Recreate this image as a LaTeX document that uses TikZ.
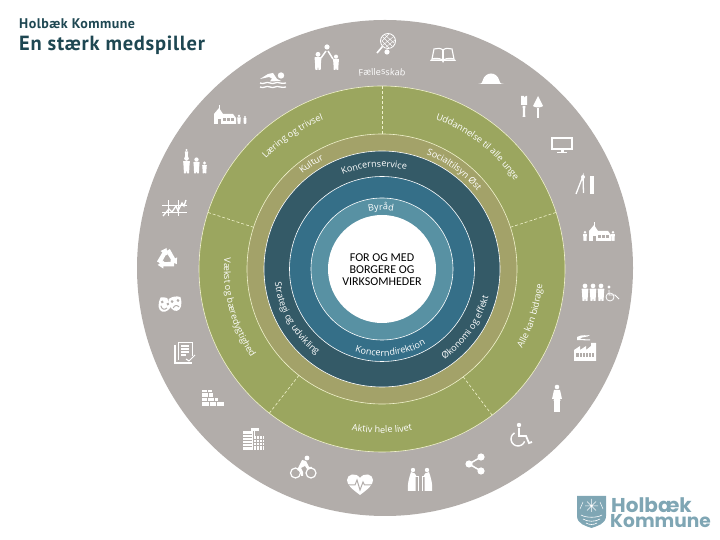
\documentclass[tikz,border=0pt]{standalone}
\usepackage{fontspec}
\setmainfont{Carlito}
\newfontfamily\titlefont[LetterSpace=3.5]{PT Sans}
\newfontfamily\logofont{Poppins}
\newfontfamily\arcfont{Open Sans}
\usetikzlibrary{decorations.text}
\definecolor{greyring}{HTML}{B2ADAA}
\definecolor{greenring}{HTML}{9BA65F}
\definecolor{olivering}{HTML}{A3A269}
\definecolor{darkring}{HTML}{345A67}
\definecolor{midring}{HTML}{356F88}
\definecolor{lightring}{HTML}{5891A3}
\definecolor{titleteal}{HTML}{1E4752}
\definecolor{logoblue}{HTML}{7FA6B4}
\definecolor{paleline}{HTML}{F0F2CC}
% text on the rings, clockwise over the top and counter-clockwise under the bottom
\newcommand{\overlabel}[3]{\path[decorate,decoration={text along path,text color=white,text align=center,text={|\arcfont\fontsize{9.1}{10}\selectfont|#3}}] (hub) ++(#1+45:#2) arc[start angle=#1+45,end angle=#1-45,radius=#2];}
\newcommand{\underlabel}[3]{\path[decorate,decoration={text along path,text color=white,text align=center,text={|\arcfont\fontsize{9.1}{10}\selectfont|#3}}] (hub) ++(#1-45:#2) arc[start angle=#1-45,end angle=#1+45,radius=#2];}
\tikzset{
  ring/.style={circle,inner sep=0pt,outer sep=0pt,draw=white,line width=.6pt},
  divider/.style={draw=paleline,line width=.6pt,dash pattern=on 3pt off 2pt},
  icon/.style={fill=white,draw=none},
  iconline/.style={draw=white,line width=1.1pt,fill=none},
  hole/.style={fill=greyring,draw=none},
  person/.pic={
    \fill[icon] (0,11.6) circle (1.8);
    \fill[icon,rounded corners=.5] (-2.6,9.6) -- (2.6,9.6) -- (2.2,5) -- (2,0) -- (.3,0) -- (0,4.5) -- (-.3,0) -- (-2,0) -- (-2.2,5) -- cycle;
  },
  racket/.pic={
    \draw[iconline,line width=.9pt] (3,4) circle (7.5);
    \draw[white,line width=.4pt] (-2,8) -- (7,-1) (0,10) -- (9,2) (-3,4) -- (4,-3) (-2,0) -- (8,8) (1,-2) -- (10,5) (-3,4) -- (4,11);
    \draw[iconline,line width=1.6pt] (-2.5,-1.5) -- (-8,-8);
    \fill[icon] (2,-7) circle (2.6);
  },
  book/.pic={
    \draw[iconline] (0,-5) .. controls (-4,-3) and (-8,-3) .. (-11,-4) -- (-9,6) .. controls (-6,7) and (-2,7) .. (0,5) .. controls (2,7) and (6,7) .. (9,6) -- (11,-4) .. controls (8,-3) and (4,-3) .. (0,-5) -- cycle;
    \draw[iconline] (0,5) -- (0,-5);
    \fill[icon] (-13,-6) -- (-1,-6) -- (0,-8) -- (1,-6) -- (13,-6) -- (12,-4.5) -- (-12,-4.5) -- cycle;
  },
  hardhat/.pic={
    \fill[icon] (-13,-6) .. controls (-9,-5.5) and (-9,-5) .. (-8.5,-3) .. controls (-6,7) and (6,7) .. (8.5,-3) .. controls (9,-5) and (9,-5.5) .. (13,-6) -- cycle;
  },
  brushtrowel/.pic={
    \fill[icon] (-11,11) -- (-8,11) -- (-8,9) -- (-6,11) -- (-5,11) -- (-5,2) -- (-11,2) -- cycle;
    \fill[icon] (-9.5,1) -- (-6.5,1) -- (-7,-3) -- (-6.7,-10) -- (-9.3,-10) -- (-9,-3) -- cycle;
    \fill[icon] (6,11) -- (11,1) .. controls (9,-1) and (3,-1) .. (1,1) -- cycle;
    \fill[icon] (5.3,-1) rectangle (6.7,-11);
  },
  monitor/.pic={
    \draw[iconline,line width=1.4pt] (-10,-4) rectangle (10,7);
    \fill[icon] (-1.5,-5) rectangle (1.5,-7.5);
    \fill[icon] (-5,-7) rectangle (5,-8.5);
  },
  compassruler/.pic={
    \draw[iconline,line width=1.3pt] (-9,-9) -- (-2,9) -- (-1.5,-8);
    \fill[icon] (-2,8) circle (2);
    \fill[icon] (4.5,-9) rectangle (9,9);
  },
  school/.pic={
    \fill[icon] (-10,-9) -- (-10,1) -- (-5,7) -- (-1,1) -- (9,1) -- (12,-3) -- (12,-9) -- cycle;
    \fill[icon] (-5.5,6) rectangle (-4.5,10);
    \fill[hole] (-6.5,-9) rectangle (-3.5,-4);
    \fill[hole] (-1,-6) rectangle (1.5,-3);
    \fill[hole] (3,-6) rectangle (5.5,-3);
    \fill[hole] (7,-6) rectangle (9.5,-3);
  },
  peoplechair/.pic={
    \pic[scale=1.3] at (-16,-9) {person};
    \pic[scale=1.3] at (-8,-9) {person};
    \pic[scale=1.3] at (0,-9) {person};
    \draw[iconline,line width=.8pt] (8,2) -- (8,-3) -- (14,-3) -- (18,-7);
    \draw[iconline,line width=.8pt] (9,-5) circle (4);
    \fill[icon] (8,5) circle (1.7);
  },
  factory/.pic={
    \fill[icon] (-11,-13) -- (-11,-2) -- (-5,2) -- (-5,-2) -- (1,2) -- (1,-2) -- (6,2) -- (6,5) -- (11,5) -- (11,-13) -- cycle;
    \fill[hole] (-9,-9) rectangle (9,-5);
    \draw[white,line width=.5pt] (-6,-9) -- (-6,-5) (-3,-9) -- (-3,-5) (0,-9) -- (0,-5) (3,-9) -- (3,-5) (6,-9) -- (6,-5);
    \fill[icon] (-8,11) .. controls (-3,14) and (2,12) .. (5,13) .. controls (2,10) and (-3,12) .. (-5,9) -- (5,8.5) -- (5,7.5) -- (-8,8) -- cycle;
  },
  nurse/.pic={
    \fill[icon] (0,11) circle (2.3);
    \fill[icon] (-3,8) -- (3,8) -- (5,-1) -- (3,-1) -- (3.5,-3) -- (-3.5,-3) -- (-3,-1) -- (-5,-1) -- cycle;
    \fill[icon] (-3,-3) rectangle (-.4,-14);
    \fill[icon] (.4,-3) rectangle (3,-14);
  },
  wheelchair/.pic={
    \fill[icon] (-2,10) circle (2.2);
    \draw[iconline,line width=1.8pt] (-2,7) -- (-2,-1) -- (5,-1) -- (8,-8) -- (11,-7);
    \draw[iconline,line width=1.4pt] (-3,-4) ++(120:7) arc[start angle=120,end angle=340,radius=7];
  },
  share/.pic={
    \draw[iconline,line width=1.5pt] (6,7) -- (-6,0) -- (6,-7);
    \fill[icon] (6,7) circle (3.6);
    \fill[icon] (-6,0) circle (3.6);
    \fill[icon] (6,-7) circle (3.6);
  },
  elder/.pic={
    \fill[icon] (1,10) circle (2.2);
    \fill[icon] (-1,8) .. controls (2,8) and (4,6) .. (5,3) -- (3.5,3) -- (3.5,-11) -- (-4,-11) .. controls (-5,-5) and (-3,2) .. (-1,8) -- cycle;
    \draw[iconline,line width=.7pt] (3,4) -- (6,4) -- (6,-11);
  },
  heart/.pic={
    \fill[icon] (0,-11) .. controls (-8,-5) and (-13,-1) .. (-13,4) .. controls (-13,10) and (-4,12) .. (0,6) .. controls (4,12) and (13,10) .. (13,4) .. controls (13,-1) and (8,-5) .. (0,-11) -- cycle;
    \draw[greyring,line width=1pt] (-14,-1) -- (-5,-1) -- (-3,4) -- (0,-6) -- (3,2) -- (4.5,-1) -- (13,-1);
  },
  cyclist/.pic={
    \draw[iconline,line width=1.2pt] (-7.5,-6) circle (5);
    \draw[iconline,line width=1.2pt] (8,-6) circle (5);
    \fill[icon] (4,9) circle (2.4);
    \fill[icon] (-6,-3) -- (-1,7) -- (3,6) -- (6,0) -- (9,0) -- (9,-2) -- (4,-2) -- (2,1) -- (-2,-1) -- (0,-5) -- (0,-9) -- (-2,-9) -- (-2,-5) -- cycle;
  },
  towers/.pic={
    \fill[icon] (-10,-11) rectangle (2,8);
    \fill[icon] (-2,8) rectangle (6,11);
    \fill[icon] (1,-11) rectangle (11,3);
    \draw[greyring,line width=.7pt] (-10,5) -- (-1,5) (-10,2) -- (-1,2) (-10,-1) -- (-1,-1) (-10,-4) -- (-1,-4) (-10,-7) -- (-1,-7);
    \draw[greyring,line width=.5pt] (.5,-11) -- (.5,8) (3,-11) -- (3,3) (6,-11) -- (6,3) (9,-11) -- (9,3) (1,0) -- (11,0) (1,-3) -- (11,-3) (1,-6) -- (11,-6);
  },
  bricks/.pic={
    \fill[icon] (-11,-8) rectangle (11,-4.5);
    \fill[icon] (-11,-3.5) rectangle (5,0);
    \fill[icon] (-11,1) rectangle (0,4.5);
    \fill[icon] (-11,5.5) rectangle (-1,8);
    \draw[greyring,line width=.6pt] (-4,-8) -- (-4,-4.5) (3,-8) -- (3,-4.5) (-6,-3.5) -- (-6,0) (1,-3.5) -- (1,0) (-5,1) -- (-5,4.5) (-6,5.5) -- (-6,8);
  },
  document/.pic={
    \draw[iconline,line width=.8pt] (-7,-8) -- (-7,10) -- (7,10) -- (7,-4);
    \draw[iconline,line width=1.2pt] (-10,7) -- (-10,-11) -- (7,-11);
    \draw[white,line width=1.2pt] (-4,6) -- (4,6) (-4,3) -- (4,3) (-4,0) -- (4,0) (-4,-3) -- (1,-3);
    \draw[white,line width=1pt] (1,-7) -- (4,-9) -- (10,-3);
  },
  masks/.pic={
    \fill[icon,rotate=-20] (-12,6) .. controls (-6,8) and (-4,8) .. (1,6) .. controls (2,-2) and (-2,-7) .. (-6,-7) .. controls (-10,-7) and (-13,-2) .. (-12,6) -- cycle;
    \fill[hole,rotate=-20] (-9,2) circle (1.5);
    \fill[hole,rotate=-20] (-3,2) circle (1.5);
    \draw[greyring,line width=1pt,rotate=-20] (-9,-2) .. controls (-7,-5) and (-4,-5) .. (-2.5,-2);
    \fill[greyring,rotate=10] (-1.2,9) -- (13,10) -- (13,-6) -- (4,-7) -- cycle;
    \fill[icon,rotate=10] (0,8) .. controls (4,10) and (8,10) .. (12,8) .. controls (13,0) and (10,-5) .. (6,-5) .. controls (2,-5) and (-1,0) .. (0,8) -- cycle;
    \fill[hole,rotate=10] (3,5) circle (1.5);
    \fill[hole,rotate=10] (9,5) circle (1.5);
    \draw[greyring,line width=1pt,rotate=10] (3,-1.5) .. controls (5,1) and (7,1) .. (9,-1.5);
  },
  recycle/.pic={
    \fill[icon] (-10,-2.5) -- (-6,-4.8) -- (-1.5,3.6) -- (.5,4.3) -- (-.5,11) -- (-6.5,7.9) -- (-4.5,6.8) -- cycle;
    \fill[icon,rotate=-120] (-10,-2.5) -- (-6,-4.8) -- (-1.5,3.6) -- (.5,4.3) -- (-.5,11) -- (-6.5,7.9) -- (-4.5,6.8) -- cycle;
    \fill[icon,rotate=-240] (-10,-2.5) -- (-6,-4.8) -- (-1.5,3.6) -- (.5,4.3) -- (-.5,11) -- (-6.5,7.9) -- (-4.5,6.8) -- cycle;
  },
  chart/.pic={
    \draw[white,line width=.3pt] (-7,-8) -- (-7,8) (3,-8) -- (3,8) (-13,3) -- (12,3) (-13,-4) -- (12,-4);
    \draw[iconline,line width=1.3pt] (-12,-8) -- (-6,-1) -- (-3,-4) -- (1,2) -- (3,-3) -- (7,5) -- (9,2) -- (11,8);
  },
  family/.pic={
    \pic[scale=1.3] at (-8.5,-11.5) {person};
    \pic[scale=.65] at (-8.5,4.5) {person};
    \pic[scale=1.2] at (1.5,-11.5) {person};
    \pic[scale=.9] at (9.5,-11.5) {person};
  },
  highfive/.pic={
    \pic[scale=1.35] at (-9,-13) {person};
    \pic[scale=1.15] at (9,-13) {person};
    \draw[iconline,line width=1.5pt] (-6,-1) -- (-1,6) (6,-2) -- (1,6);
    \fill[icon] (0,10) circle (2.6);
  },
  swimmer/.pic={
    \fill[icon] (8,4.5) circle (3.2);
    \fill[icon] (-13,1) -- (-5,6) -- (0,7) -- (4,1) -- (8,-1) -- (-3,-1.5) -- (-1,1.5) -- (-4,3) -- cycle;
    \draw[iconline,line width=1.3pt] (-13,-3) .. controls (-9,-5) and (-7,-1) .. (-3,-3) .. controls (1,-5) and (3,-1) .. (7,-3) .. controls (9,-4) and (11,-3) .. (13,-3);
    \draw[iconline,line width=1.3pt] (-13,-7) .. controls (-9,-9) and (-7,-5) .. (-3,-7) .. controls (1,-9) and (3,-5) .. (7,-7) .. controls (9,-8) and (11,-7) .. (13,-7);
  },
}
\begin{document}
\begin{tikzpicture}[x=1pt,y=1pt]
\useasboundingbox (0,0) rectangle (720,540);
\coordinate (hub) at (382,271);
% rings
\node[ring,draw=none,fill=greyring,minimum size=496pt] (greydisc) at (385,272) {};
\node[ring,draw=paleline,fill=greenring,minimum size=366pt] (greendisc) at (hub) {};
\node[ring,draw=paleline,fill=olivering,minimum size=270pt] (olivedisc) at (hub) {};
\node[ring,fill=darkring,minimum size=236pt] (darkdisc) at (hub) {};
\node[ring,fill=midring,minimum size=185pt] (middisc) at (hub) {};
\node[ring,fill=lightring,minimum size=142pt] (lightdisc) at (hub) {};
\node[ring,draw=none,fill=white,minimum size=108pt] (whitedisc) at (hub) {};
\draw[divider] (greendisc.90) -- (olivedisc.90);
\draw[divider] (greendisc.18) -- (olivedisc.18);
\draw[divider] (greendisc.-53) -- (olivedisc.-53);
\draw[divider] (greendisc.-128) -- (olivedisc.-128);
\draw[divider] (greendisc.162) -- (olivedisc.162);
% ring labels
\overlabel{90}{194}{Fællesskab}
\overlabel{124}{160}{Læring og trivsel}
\overlabel{52}{159}{Uddannelse til alle unge}
\overlabel{124}{124}{Kultur}
\overlabel{54}{123}{Socialtilsyn Øst}
\overlabel{94.5}{102}{Koncernservice}
\overlabel{91}{59}{Byråd}
\underlabel{-84}{87}{Koncerndirektion}
\underlabel{-35}{110}{Økonomi og effekt}
\underlabel{210}{108}{Strategi og udvikling}
\underlabel{-17.5}{161}{Alle kan bidrage}
\underlabel{195}{158}{Vækst og bæredygtighed}
\underlabel{-90}{164}{Aktiv hele livet}
% centre and headings
\node[align=center,font=\fontsize{12}{12}\selectfont,text=black] (centretext) at (382,270) {FOR OG MED\\BORGERE OG\\VIRKSOMHEDER};
\node[anchor=west,inner sep=0pt,text=titleteal,font=\titlefont\bfseries\fontsize{14}{15}\selectfont] (owner) at (19,516) {Holbæk Kommune};
\node[anchor=west,inner sep=0pt,text=titleteal,font=\titlefont\bfseries\fontsize{20.5}{21}\selectfont] (heading) at (19,495) {En stærk medspiller};
% icons in the grey ring
\pic at (385,495) {racket};
\pic at (443,485) {book};
\pic at (491,462) {hardhat};
\pic at (532,433) {brushtrowel};
\pic at (562,395) {monitor};
\pic at (585,355) {compassruler};
\pic at (599,308) {school};
\pic[scale=.75] at (585,299) {person};
\pic[scale=.75] at (613,299) {person};
\pic at (601,248) {peoplechair};
\pic at (585,192) {factory};
\pic at (557,142) {nurse};
\pic at (521,105) {wheelchair};
\pic at (475,76) {share};
\pic at (412,60) {elder};
\pic[xscale=-1] at (428,60) {elder};
\pic at (360,56) {heart};
\pic at (303,73) {cyclist};
\pic at (253,101) {towers};
\pic at (213,142) {bricks};
\pic at (185,188) {document};
\pic at (170,233) {masks};
\pic at (167,281) {recycle};
\pic at (175,332) {chart};
\pic at (195,378) {family};
\pic at (224,425) {school};
\pic[scale=.7] at (239,416) {person};
\pic[scale=.6] at (245,416) {person};
\pic at (273,460) {swimmer};
\pic at (327,483) {highfive};
% logo
\fill[logoblue] (577,44) -- (606,44) -- (606,24) .. controls (606,16) and (597,14) .. (591.5,12) .. controls (586,14) and (577,16) .. (577,24) -- cycle;
\draw[white,line width=.6pt] (581,25) .. controls (586,22) and (597,22) .. (602,25) (583,21) .. controls (587,18) and (596,18) .. (600,21) (586,17) .. controls (589,15) and (594,15) .. (597,17);
\draw[white,line width=.5pt] (591.5,28) -- (591.5,41) (585,34) -- (598,34) (587,29.5) -- (596,38.5) (587,38.5) -- (596,29.5) (580,31) -- (583,38) (603,31) -- (600,38);
\node[anchor=west,inner sep=0pt,text=logoblue,font=\logofont\bfseries\fontsize{20}{20}\selectfont] (logoname) at (611,35) {Holbæk};
\node[anchor=west,inner sep=0pt,text=logoblue,font=\logofont\bfseries\fontsize{18.6}{20}\selectfont] (logoplace) at (610,19) {Kommune};
\end{tikzpicture}
\end{document}
